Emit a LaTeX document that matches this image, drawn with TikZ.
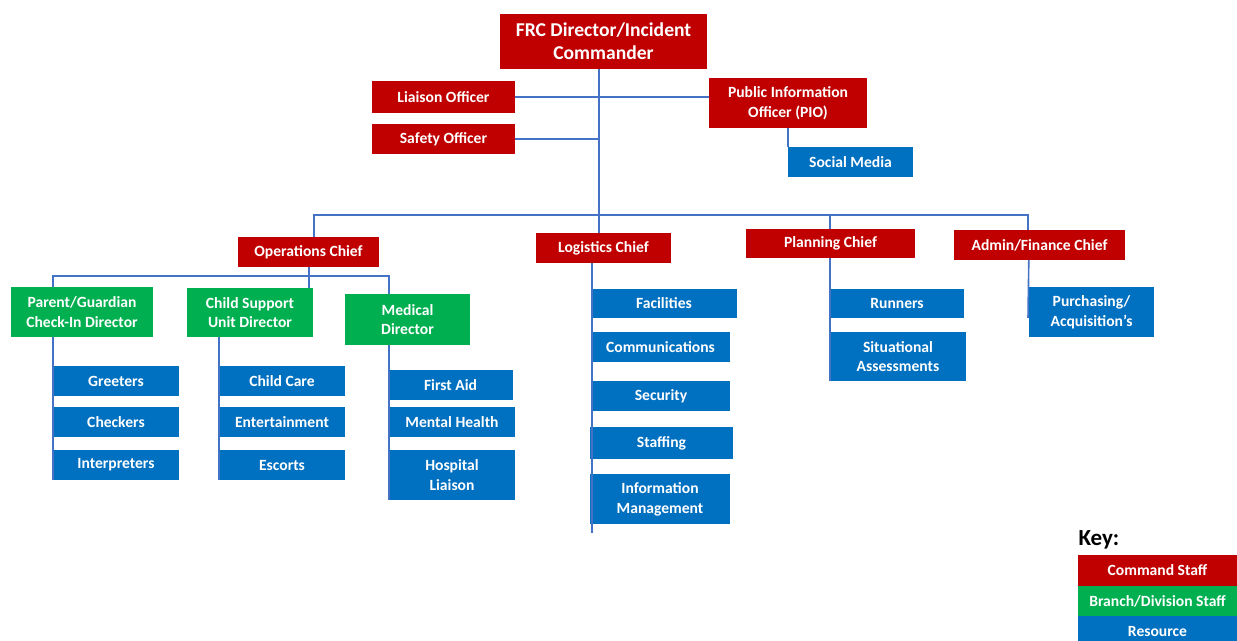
\documentclass[tikz,border=0pt]{standalone}
\usepackage{fontspec}
\setmainfont{Carlito}
\usetikzlibrary{calc}
\definecolor{cmdred}{HTML}{C00000}
\definecolor{brgreen}{HTML}{00B050}
\definecolor{resblue}{HTML}{0070C0}
\definecolor{linkblue}{HTML}{4472C4}
\tikzset{
  boxbase/.style={rectangle, inner sep=0pt, text=white, align=center,
    font=\fontsize{15.6}{19.8}\selectfont\bfseries},
  cmdbox/.style={boxbase, fill=cmdred},
  brbox/.style={boxbase, fill=brgreen},
  resbox/.style={boxbase, fill=resblue},
  conn/.style={draw=linkblue, line width=1.6pt},
}
\newcommand\bx[6]{\node[#1, minimum width=#4, minimum height=#5] (#2) at (#3) {#6};}
\begin{document}
\begin{tikzpicture}[x=1pt,y=-1pt]
\clip (0,0) rectangle (1237,640);
% command staff
\node[cmdbox, minimum width=207, minimum height=55, font=\fontsize{19.6}{23}\selectfont\bfseries] (dir) at (603.5,41.5) {FRC Director/Incident\\Commander};
\bx{cmdbox}{liaison}{443.5,97}{143}{32}{Liaison Officer}
\bx{cmdbox}{safety}{443.5,139}{143}{30}{Safety Officer}
\bx{cmdbox}{pio}{788,103}{158}{50}{Public Information\\Officer (PIO)}
\bx{resbox}{social}{850.5,162}{125}{30}{Social Media}
% chiefs
\bx{cmdbox}{ops}{308.5,252}{141}{30}{Operations Chief}
\bx{cmdbox}{log}{603.5,248}{135}{30}{Logistics Chief}
\bx{cmdbox}{plan}{830.5,243.5}{169}{29}{Planning Chief}
\bx{cmdbox}{admin}{1039.5,245}{171}{30}{Admin/Finance Chief}
% operations branches
\bx{brbox}{parent}{82,312}{142}{50}{Parent/Guardian\\Check-In Director}
\bx{brbox}{child}{250,312.5}{126}{49}{Child Support\\Unit Director}
\bx{brbox}{medical}{407.5,319.5}{125}{51}{Medical\\Director}
% resources
\bx{resbox}{greet}{116,381}{126}{30}{Greeters}
\bx{resbox}{check}{116,422}{126}{30}{Checkers}
\bx{resbox}{interp}{116,465}{126}{30}{Interpreters}
\bx{resbox}{care}{282,381}{126}{30}{Child Care}
\bx{resbox}{ent}{282,422}{126}{30}{Entertainment}
\bx{resbox}{esc}{282,465}{126}{30}{Escorts}
\bx{resbox}{aid}{450.5,385}{125}{30}{First Aid}
\bx{resbox}{mental}{452,422}{126}{30}{Mental Health}
\bx{resbox}{hosp}{452,475}{126}{50}{Hospital\\Liaison}
\bx{resbox}{fac}{664,303.5}{146}{29}{Facilities}
\bx{resbox}{comm}{660.5,347}{139}{30}{Communications}
\bx{resbox}{sec}{661,396}{138}{30}{Security}
\bx{resbox}{staff}{661.5,443}{143}{32}{Staffing}
\bx{resbox}{info}{660,499}{140}{50}{Information\\Management}
\bx{resbox}{run}{897,303.5}{134}{29}{Runners}
\bx{resbox}{sit}{898,356.5}{136}{49}{Situational\\Assessments}
\bx{resbox}{purch}{1091.5,312}{125}{50}{Purchasing/\\Acquisition's}
% key
\node[anchor=base west, font=\fontsize{23}{27}\selectfont\bfseries] (keylbl) at (1075,545) {Key:};
\bx{cmdbox}{kcmd}{1157.5,570.5}{159}{31}{Command Staff}
\bx{brbox}{kbr}{1157.5,601}{159}{30}{Branch/Division Staff}
\bx{resbox}{kres}{1157.5,631}{159}{30}{Resource}
% junction coordinates
\coordinate (trunk) at (599,215);
\coordinate (c-ops) at (314,215);
\coordinate (c-pln) at (830,215);
\coordinate (c-adm) at (1028,215);
\coordinate (o-l) at (53,276);
\coordinate (o-m) at (309,276);
\coordinate (o-r) at (389,276);
\coordinate (l-x) at (592,300);
\coordinate (l-end) at (592,533);
\coordinate (a-end) at (1028,318);
% connectors
\draw[conn] (dir.south -| trunk) -- (log.north -| trunk);
\draw[conn] (liaison.east) -- (liaison.east -| pio.west);
\draw[conn] (safety.east) -- (safety.east -| trunk);
\draw[conn] (pio.south -| social.west) -- (social.north west);
\draw[conn] (c-ops |- ops.north) -- (c-ops) -- (c-adm) -- (c-adm |- admin.north);
\draw[conn] (c-pln) -- (c-pln |- plan.north);
\draw[conn] (ops.south -| o-m) -- (child.north -| o-m);
\draw[conn] (o-l |- parent.north) -- (o-l) -- (o-r) -- (o-r |- medical.north);
\draw[conn] (parent.south -| greet.west) -- (interp.south west);
\draw[conn] (child.south -| care.west) -- (esc.south west);
\draw[conn] (medical.south -| o-r) -- (hosp.south -| o-r);
\draw[conn] (log.south -| l-x) -- (l-end);
\draw[conn] (plan.south -| run.west) -- (sit.south west);
\draw[conn] (admin.south -| purch.west) -- (a-end);
\end{tikzpicture}
\end{document}
